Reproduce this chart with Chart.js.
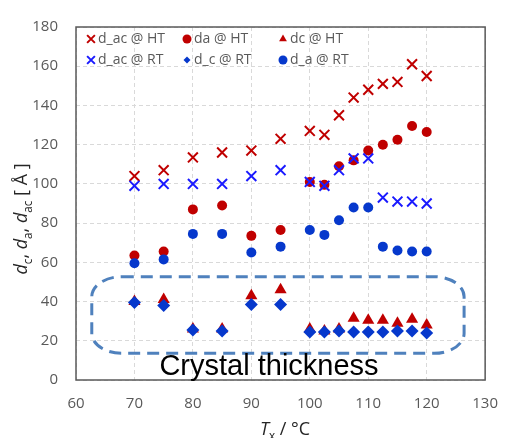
<!DOCTYPE html>
<html>
<head>
<meta charset="utf-8">
<script src="https://cdn.jsdelivr.net/npm/chart.js@4.4.0/dist/chart.umd.min.js"></script>
<style>
  html, body { margin: 0; padding: 0; background: #fff; }
  #wrap { width: 513px; height: 438px; }
</style>
</head>
<body>
<div id="wrap"><canvas id="chart" width="513" height="438"></canvas></div>
<script>
// crystallisation temperature (x) and the six thickness series (Å)
const temps = [70, 75, 80, 85, 90, 95, 100, 102.5, 105, 107.5, 110, 112.5, 115, 117.5, 120];
const dacHT = [104, 107, 113.5, 116, 117, 123, 127, 125, 135, 144, 148, 151, 152, 161, 155];
const daHT  = [63.5, 65.5, 87, 89, 73.5, 76.5, 101, 99.5, 109, 112, 117, 120, 122.5, 129.5, 126.5];
const dcHT  = [40, 41, 26, 26, 43, 46, 26, 25, 26, 31.5, 30.5, 30.5, 29, 31, 28];
const dacRT = [99, 100, 100, 100, 104, 107, 101, 99, 107, 113, 113, 93, 91, 91, 90];
const dcRT  = [39.5, 38, 25.5, 25, 38.5, 38.5, 24.5, 24.5, 25, 24.5, 24.5, 24.5, 25, 25, 24];
const daRT  = [59.5, 61.5, 74.5, 74.5, 65, 68, 76.5, 74, 81.5, 88, 88, 68, 66, 65.5, 65.5];

const xTicks = [60, 70, 80, 90, 100, 110, 120, 130];
const yTicks = [0, 20, 40, 60, 80, 100, 120, 140, 160, 180];

const RED = '#c00000';
const BLUE_X = '#1a1aff';
const BLUE = '#0638cc';
const FONT = '"Open Sans", "DejaVu Sans", sans-serif';

const pts = arr => arr.map((v, i) => ({ x: temps[i], y: v }));

// series: HT row first, RT row second (legend order)
const series = [
  { label: 'd_ac @ HT', data: dacHT, style: 'crossRot', color: RED, r: 7, lr: 5.5, order: 2 },
  { label: 'da @ HT',   data: daHT,  style: 'circle',   color: RED, r: 5, lr: 4.5, order: 2 },
  { label: 'dc @ HT',   data: dcHT,  style: 'triangle', color: RED, r: 7, lr: 4.5, order: 2 },
  { label: 'd_ac @ RT', data: dacRT, style: 'crossRot', color: BLUE_X, r: 7, lr: 5.5, order: 1 },
  { label: 'd_c @ RT',  data: dcRT,  style: 'rectRot',  color: BLUE, r: 6.5, lr: 3.5, order: 1 },
  { label: 'd_a @ RT',  data: daRT,  style: 'circle',   color: BLUE, r: 5, lr: 4.5, order: 1 }
];

// rich text helper (italic letters and subscripts)
function richWidth(ctx, parts, size) {
  let w = 0;
  parts.forEach(p => {
    ctx.font = (p.it ? 'italic ' : '') + (p.sub ? size * 0.65 : size) + 'px ' + FONT;
    w += ctx.measureText(p.t).width;
  });
  return w;
}
function drawRich(ctx, parts, cx, baseY, size) {
  let x = cx - richWidth(ctx, parts, size) / 2;
  parts.forEach(p => {
    ctx.font = (p.it ? 'italic ' : '') + (p.sub ? size * 0.65 : size) + 'px ' + FONT;
    ctx.fillText(p.t, x, baseY + (p.sub ? size * 0.25 : 0));
    x += ctx.measureText(p.t).width;
  });
}

const decor = {
  id: 'decor',
  beforeDatasetsDraw(chart) {
    const { ctx, chartArea: a, scales: { x, y } } = chart;
    ctx.save();
    // plot border
    ctx.strokeStyle = '#595959';
    ctx.lineWidth = 1.5;
    ctx.strokeRect(a.left, a.top, a.right - a.left, a.bottom - a.top);

    // dashed rounded box around the crystal thickness points
    const l = x.getPixelForValue(62.7), r = x.getPixelForValue(126.4);
    const t = y.getPixelForValue(52.7), b = y.getPixelForValue(13.6);
    const rx = 30, ry = 20;
    ctx.beginPath();
    ctx.moveTo(l + rx, t);
    ctx.lineTo(r - rx, t);
    ctx.ellipse(r - rx, t + ry, rx, ry, 0, -Math.PI / 2, 0);
    ctx.lineTo(r, b - ry);
    ctx.ellipse(r - rx, b - ry, rx, ry, 0, 0, Math.PI / 2);
    ctx.lineTo(l + rx, b);
    ctx.ellipse(l + rx, b - ry, rx, ry, 0, Math.PI / 2, Math.PI);
    ctx.lineTo(l, t + ry);
    ctx.ellipse(l + rx, t + ry, rx, ry, 0, Math.PI, Math.PI * 1.5);
    ctx.closePath();
    ctx.setLineDash([12, 7]);
    ctx.lineWidth = 3;
    ctx.strokeStyle = '#4f81bd';
    ctx.stroke();
    ctx.restore();
  },
  afterDraw(chart) {
    const { ctx, chartArea: a } = chart;
    ctx.save();
    ctx.fillStyle = '#000';
    ctx.textAlign = 'center';
    ctx.textBaseline = 'alphabetic';
    ctx.font = '29px "Liberation Sans", Arial, sans-serif';
    ctx.fillText('Crystal thickness', 269, 375);

    // legend, 2 rows x 3 columns inside the plot
    const colX = [91, 187, 283];
    const rowY = [39, 60];
    ctx.textAlign = 'left';
    ctx.textBaseline = 'middle';
    chart.data.datasets.forEach((ds, i) => {
      const cx = colX[i % 3], cy = rowY[Math.floor(i / 3)];
      ctx.fillStyle = ds.backgroundColor;
      ctx.strokeStyle = ds.borderColor;
      ctx.lineWidth = 2;
      Chart.helpers.drawPoint(ctx, {
        pointStyle: ds.pointStyle, radius: ds.legendRadius, rotation: 0,
        borderWidth: ds.pointStyle === 'crossRot' ? 2 : 0
      }, cx, cy);
      ctx.fillStyle = '#595959';
      ctx.font = '14px ' + FONT;
      ctx.fillText(ds.label, cx + 7, cy + 0.5);
    });

    // axis titles
    ctx.fillStyle = '#262626';
    ctx.textAlign = 'left';
    ctx.textBaseline = 'alphabetic';
    drawRich(ctx, [
      { t: 'T', it: true }, { t: 'x', sub: true }, { t: ' / \u00B0C' }
    ], 285, 435, 18);

    ctx.translate(27, 219);
    ctx.rotate(-Math.PI / 2);
    drawRich(ctx, [
      { t: 'd', it: true }, { t: 'c', sub: true }, { t: ', ' },
      { t: 'd', it: true }, { t: 'a', sub: true }, { t: ', ' },
      { t: 'd', it: true }, { t: 'ac', sub: true }, { t: ' [ \u00C5 ]' }
    ], 0, 0, 18);
    ctx.restore();
  }
};

new Chart(document.getElementById('chart').getContext('2d'), {
  type: 'scatter',
  data: {
    datasets: series.map(s => ({
      label: s.label,
      data: pts(s.data),
      pointStyle: s.style,
      pointRadius: s.r,
      pointHoverRadius: s.r,
      legendRadius: s.lr,
      backgroundColor: s.color,
      borderColor: s.color,
      pointBorderWidth: s.style === 'crossRot' ? 2 : 0,
      order: s.order
    }))
  },
  options: {
    responsive: false,
    animation: false,
    layout: { padding: { top: 18, right: 16, left: 0, bottom: 0 } },
    plugins: { legend: { display: false }, tooltip: { enabled: false } },
    scales: {
      x: {
        type: 'linear', min: 60, max: 130,
        afterBuildTicks: s => { s.ticks = xTicks.map(v => ({ value: v })); },
        afterFit: s => { s.height = 58; },
        grid: { color: '#d9d9d9', drawTicks: false },
        border: { display: false, dash: [4, 3] },
        ticks: { color: '#595959', font: { family: FONT, size: 15 }, padding: 15, maxRotation: 0 }
      },
      y: {
        type: 'linear', min: 0, max: 180,
        afterBuildTicks: s => { s.ticks = yTicks.map(v => ({ value: v })); },
        afterFit: s => { s.width = 76; },
        grid: { color: '#d9d9d9', drawTicks: false },
        border: { display: false, dash: [4, 3] },
        ticks: { color: '#595959', font: { family: FONT, size: 15 }, padding: 18 }
      }
    }
  },
  plugins: [decor]
});
</script>
</body>
</html>
